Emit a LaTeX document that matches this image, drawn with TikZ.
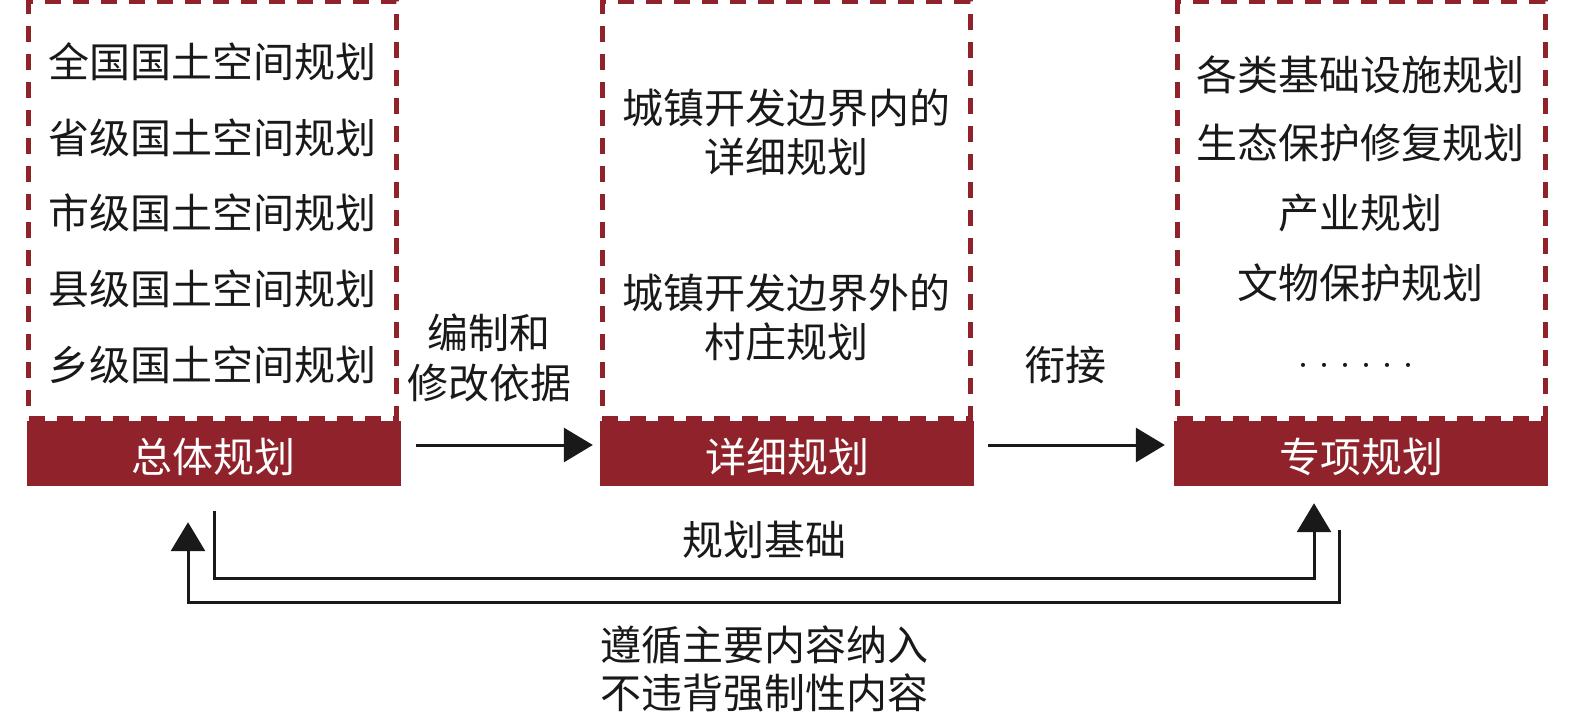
\documentclass[tikz,border=0pt]{standalone}
\usepackage{fontspec}
\newfontfamily\cjk{Noto Sans CJK SC}
\usetikzlibrary{arrows.meta}
\definecolor{dred}{RGB}{143,34,42}
\definecolor{ink}{RGB}{25,25,25}
\newcommand\onedot{\hbox to 21pt{\hss\textperiodcentered\hss}}
\begin{document}
\begin{tikzpicture}[x=1pt,y=-1pt,
 dbox/.style={draw=dred,line width=5pt,dash pattern=on 16pt off 12pt,minimum width=368pt,minimum height=416pt,inner sep=0pt},
 bar/.style={fill=dred,minimum width=374pt,minimum height=65pt,inner sep=0pt},
 bartxt/.style={text=white,inner sep=0pt,font=\cjk\fontsize{41}{49}\selectfont},
 txt/.style={text=ink,inner sep=0pt,align=center,font=\cjk\fontsize{41}{49}\selectfont},
 arr/.style={draw=ink,line width=3pt,-{Triangle[length=29pt,width=34pt]}}]
\useasboundingbox (0,0) rectangle (1575,714);
% dashed boxes
\node[dbox] (A) at (212.5,210) {};
\node[dbox] (B) at (786,210) {};
\node[dbox] (C) at (1361,210) {};
% bars
\node[bar] (Abar) at (213.5,453.5) {};
\node[bar] (Bbar) at (787,453.5) {};
\node[bar] (Cbar) at (1361,453.5) {};
\node[bartxt] (At) at ([shift={(0,3)}]Abar.center) {总体规划};
\node[bartxt] (Bt) at ([shift={(0,3)}]Bbar.center) {详细规划};
\node[bartxt] (Ct) at ([shift={(0,3)}]Cbar.center) {专项规划};
% left texts
\node[txt] (a1) at (212.5,62) {全国国土空间规划};
\node[txt] (a2) at (212.5,138) {省级国土空间规划};
\node[txt] (a3) at (212.5,213) {市级国土空间规划};
\node[txt] (a4) at (212.5,289) {县级国土空间规划};
\node[txt] (a5) at (212.5,365) {乡级国土空间规划};
% middle texts
\node[txt] (b1) at (786.5,132.5) {城镇开发边界内的\\详细规划};
\node[txt] (b2) at (786.5,317.5) {城镇开发边界外的\\村庄规划};
% right texts
\node[txt] (c1) at (1360,75) {各类基础设施规划};
\node[txt] (c2) at (1360,143) {生态保护修复规划};
\node[txt] (c3) at (1360,213) {产业规划};
\node[txt] (c4) at (1360,283) {文物保护规划};
\node[txt,font=\rmfamily\fontsize{50}{50}\selectfont] (c5) at (1356,373) {\onedot\onedot\onedot\onedot\onedot\onedot};
% labels
\node[txt,font=\cjk\fontsize{41}{50}\selectfont] (l1) at (489,358) {编制和\\修改依据};
\node[txt] (l2) at (1065,365) {衔接};
\node[txt] (l3) at (764,540) {规划基础};
\node[txt,font=\cjk\fontsize{41}{48}\selectfont] (l4) at (764,669) {遵循主要内容纳入\\不违背强制性内容};
% horizontal arrows
\draw[arr] ([shift={(15,-8.5)}]Abar.east) -- ([shift={(-7,-8.5)}]Bbar.west);
\draw[arr] ([shift={(14,-8.5)}]Bbar.east) -- ([shift={(-9,-8.5)}]Cbar.west);
% lower connectors
\coordinate (s1) at ([shift={(0.5,25)}]Abar.south);
\coordinate (t1) at ([shift={(-47,17)}]Cbar.south);
\coordinate (h1) at (0,578);
\draw[arr] (s1) -- (s1 |- h1) -- (t1 |- h1) -- (t1);
\coordinate (s2) at ([shift={(-22,44)}]Cbar.south);
\coordinate (t2) at ([shift={(-25.5,36)}]Abar.south);
\coordinate (h2) at (0,602);
\draw[arr] (s2) -- (s2 |- h2) -- (t2 |- h2) -- (t2);
\end{tikzpicture}
\end{document}
